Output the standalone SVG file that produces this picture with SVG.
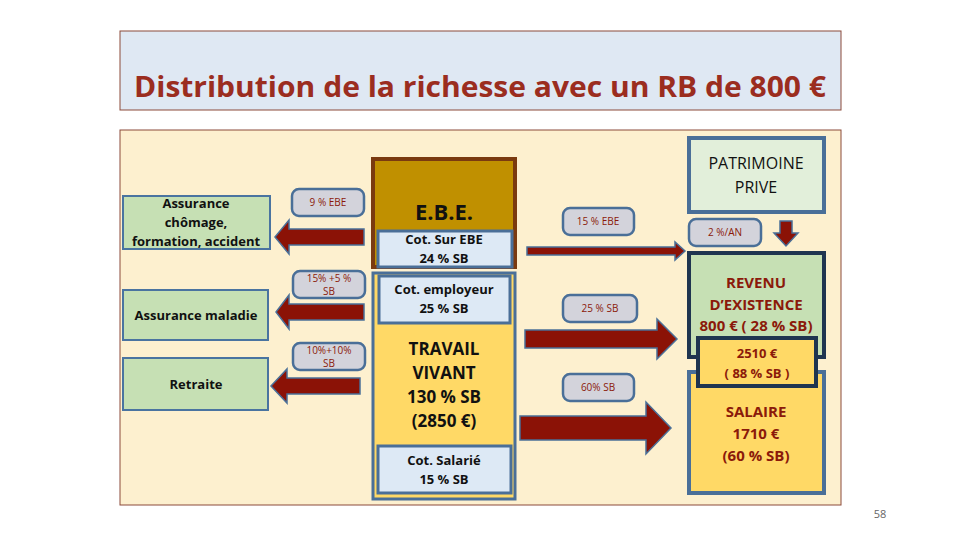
<svg xmlns="http://www.w3.org/2000/svg" width="960" height="540" viewBox="0 0 960 540">
<defs><style>
text{font-family:"Open Sans","Liberation Sans",sans-serif;text-anchor:middle}
.green{fill:#c6e0b4;stroke:#4a74a0;stroke-width:2}
.pill{fill:#d3d3db;stroke:#4a6f98;stroke-width:2.5}
.pt{font-size:10px;fill:#8b1a0a}
.blk{font-size:13px;font-weight:bold;fill:#111}
.lb{fill:#dde9f5;stroke:#4a6f98;stroke-width:3}
.arr{fill:#8b1206;stroke:#4a6f98;stroke-width:1.5}
.red{font-weight:bold;fill:#8b1a0a}
</style></defs>
<rect width="960" height="540" fill="#fff"/>
<g id="title"><rect x="120" y="31" width="721" height="79" fill="#dfe8f3" stroke="#8b4a3a"/>
<text x="480" y="97" font-size="28" font-weight="bold" fill="#9b2d1f" textLength="692" lengthAdjust="spacingAndGlyphs">Distribution de la richesse avec un RB de 800 €</text></g>
<rect x="120" y="130" width="721" height="375" fill="#fdf0cf" stroke="#8b4a3a"/>
<g id="chomage"><rect class="green" x="123" y="196" width="147" height="53"/>
<text class="blk" x="196" y="208"><tspan x="196" y="208">Assurance</tspan><tspan x="196" y="227">chômage,</tspan><tspan x="196" y="246">formation, accident</tspan></text></g>
<g id="maladie"><rect class="green" x="123" y="290" width="145" height="50"/><text class="blk" x="196" y="320">Assurance maladie</text></g>
<g id="retraite"><rect class="green" x="123" y="358" width="145" height="52"/><text class="blk" x="196" y="389">Retraite</text></g>
<g id="ebe"><rect x="373" y="159" width="142" height="108" fill="#c09000" stroke="#7a3a10" stroke-width="4"/>
<text x="444" y="220" font-size="22" font-weight="bold" fill="#111">E.B.E.</text>
<rect class="lb" x="378" y="231" width="134" height="36"/>
<text class="blk" x="444" y="244"><tspan x="444" y="244">Cot. Sur EBE</tspan><tspan x="444" y="263">24 % SB</tspan></text></g>
<g id="travail"><rect x="373" y="273" width="142" height="226" fill="#ffd966" stroke="#4a6f98" stroke-width="3"/>
<rect class="lb" x="379" y="276" width="131" height="47"/>
<text class="blk" x="444" y="294"><tspan x="444" y="294">Cot. employeur</tspan><tspan x="444" y="313">25 % SB</tspan></text>
<text x="444" y="355" font-size="17" font-weight="bold" fill="#111"><tspan x="444" y="355">TRAVAIL</tspan><tspan x="444" y="379">VIVANT</tspan><tspan x="444" y="403">130 % SB</tspan><tspan x="444" y="427">(2850 €)</tspan></text>
<rect class="lb" x="378" y="446" width="133" height="47"/>
<text class="blk" x="444" y="465"><tspan x="444" y="465">Cot. Salarié</tspan><tspan x="444" y="484">15 % SB</tspan></text></g>
<g id="patrimoine"><rect x="689" y="138" width="135" height="74" fill="#e2efda" stroke="#4a6f98" stroke-width="4"/>
<text x="756" y="169" font-size="16" fill="#111"><tspan x="756" y="169">PATRIMOINE</tspan><tspan x="756" y="193">PRIVE</tspan></text></g>
<g id="revenu"><rect x="689" y="253" width="135" height="104" fill="#c6e0b4" stroke="#1f3550" stroke-width="4"/>
<text class="red" font-size="15" x="756" y="288"><tspan x="756" y="288">REVENU</tspan><tspan x="756" y="310">D’EXISTENCE</tspan><tspan x="756" y="331">800 € ( 28 % SB)</tspan></text></g>
<g id="salaire"><rect x="689" y="372" width="135" height="121" fill="#ffd966" stroke="#4a6f98" stroke-width="4"/>
<text class="red" font-size="15" x="756" y="417"><tspan x="756" y="417">SALAIRE</tspan><tspan x="756" y="439">1710 €</tspan><tspan x="756" y="461">(60 % SB)</tspan></text></g>
<g id="total"><rect x="698" y="338" width="118" height="48" fill="#ffd966" stroke="#1f3550" stroke-width="4"/>
<text class="red" font-size="13" x="757" y="358"><tspan x="757" y="358">2510 €</tspan><tspan x="757" y="378">( 88 % SB )</tspan></text></g>
<g id="connectors">
<path class="arr" d="M364,229 H289 V220 L275,237 L289,254 V245 H364 Z"/>
<path class="arr" d="M364,304 H289 V295 L276,312 L289,329 V320 H364 Z"/>
<path class="arr" d="M360,378 H287 V369 L271,386 L287,403 V394 H360 Z"/>
<path class="arr" d="M527,247 H675 V242 L685,251 L675,260 V255 H527 Z"/>
<path class="arr" d="M525,330 H657 V319 L677,339 L657,359 V348 H525 Z"/>
<path class="arr" d="M520,416 H646 V402 L671,428 L646,454 V440 H520 Z"/>
<path class="arr" d="M780,221 H792 V233 H798 L786,246 L774,233 H780 Z"/>
<rect class="pill" x="292" y="189" width="72" height="27" rx="7"/><text class="pt" x="328" y="206">9 % EBE</text>
<rect class="pill" x="293" y="271" width="72" height="27" rx="7"/><text class="pt" x="329" y="282"><tspan x="329" y="282">15% +5 %</tspan><tspan x="329" y="295">SB</tspan></text>
<rect class="pill" x="293" y="343" width="72" height="27" rx="7"/><text class="pt" x="329" y="354"><tspan x="329" y="354">10%+10%</tspan><tspan x="329" y="367">SB</tspan></text>
<rect class="pill" x="563" y="208" width="71" height="27" rx="7"/><text class="pt" x="598" y="225">15 % EBE</text>
<rect class="pill" x="689" y="219" width="72" height="27" rx="7"/><text class="pt" x="725" y="236">2 %/AN</text>
<rect class="pill" x="563" y="295" width="74" height="27" rx="7"/><text class="pt" x="600" y="312">25 %  SB</text>
<rect class="pill" x="563" y="374" width="71" height="27" rx="7"/><text class="pt" x="598" y="391">60% SB</text>
</g>
<text x="880" y="518" font-size="11" fill="#666">58</text>
</svg>
